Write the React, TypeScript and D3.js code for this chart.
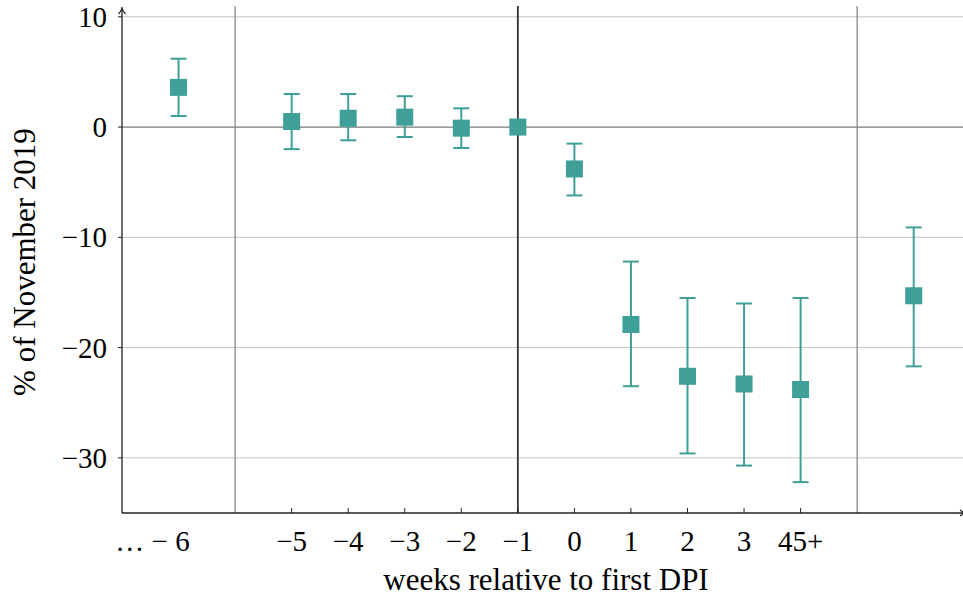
import React from "react";
import * as d3 from "d3";

const positions = [0, 2, 3, 4, 5, 6, 7, 8, 9, 10, 11, 13];
const estimates = [3.6, 0.5, 0.8, 0.9, -0.1, 0.0, -3.8, -17.9, -22.6, -23.3, -23.8, -15.3];
const lowerCI = [1.0, -2.0, -1.2, -0.9, -1.9, 0.0, -6.2, -23.5, -29.6, -30.7, -32.2, -21.7];
const upperCI = [6.2, 3.0, 3.0, 2.8, 1.7, 0.0, -1.5, -12.2, -15.5, -16.0, -15.5, -9.1];

const xTickPositions = [0, 2, 3, 4, 5, 6, 7, 8, 9, 10, 11];
const xTickLabels = ["… − 6", "−5", "−4", "−3", "−2", "−1", "0", "1", "2", "3", "45+"];
const yTicks = [10, 0, -10, -20, -30];
const grayVerticals = [1, 12];
const blackVertical = 6;

const W = 963;
const H = 597;
const TEAL = "#3f9f99";
const FONT = "'Liberation Serif', 'DejaVu Serif', serif";

export default function App() {
  const x = d3.scaleLinear().domain([-1, 14]).range([122, 122 + 15 * 56.55]);
  const y = d3.scaleLinear().domain([-35, 10]).range([513, 16.8]);
  const left = x(-1);
  const right = W;
  const top = 7;
  const bottom = y(-35);
  const fmt = (v: number) => (v < 0 ? "−" + Math.abs(v) : String(v));

  return (
    <svg width={W} height={H} style={{ position: "absolute", left: 0, top: 0, background: "#fff" }}>
      {/* horizontal grid */}
      {yTicks.map((t) => (
        <line key={"g" + t} x1={left} x2={right} y1={y(t)} y2={y(t)}
          stroke={t === 0 ? "#7a7a7a" : "#c4c4c4"} strokeWidth={t === 0 ? 1.3 : 1} />
      ))}
      {/* vertical separators */}
      {grayVerticals.map((p) => (
        <line key={"v" + p} x1={x(p)} x2={x(p)} y1={6} y2={bottom} stroke="#8a8a8a" strokeWidth={1.3} />
      ))}
      <line x1={x(blackVertical)} x2={x(blackVertical)} y1={6} y2={bottom} stroke="#333" strokeWidth={1.8} />

      {/* error bars */}
      {positions.map((p, i) => {
        const cx = x(p);
        return (
          <g key={"e" + i} stroke={TEAL} strokeWidth={2}>
            {upperCI[i] !== lowerCI[i] && (
              <>
                <line x1={cx} x2={cx} y1={y(upperCI[i])} y2={y(lowerCI[i])} />
                <line x1={cx - 8} x2={cx + 8} y1={y(upperCI[i])} y2={y(upperCI[i])} />
                <line x1={cx - 8} x2={cx + 8} y1={y(lowerCI[i])} y2={y(lowerCI[i])} />
              </>
            )}
          </g>
        );
      })}
      {positions.map((p, i) => (
        <rect key={"m" + i} x={x(p) - 8.5} y={y(estimates[i]) - 8.5} width={17} height={17} fill={TEAL} />
      ))}

      {/* axes */}
      <line x1={left} x2={left} y1={bottom} y2={top + 2} stroke="#222" strokeWidth={1.3} />
      <path d={`M${left - 3.5},${top + 7} Q${left},${top + 3} ${left},${top} Q${left},${top + 3} ${left + 3.5},${top + 7}`}
        fill="none" stroke="#222" strokeWidth={1.2} />
      <line x1={left} x2={right} y1={bottom} y2={bottom} stroke="#222" strokeWidth={1.3} />
      <path d={`M${right - 3},${bottom - 3} L${right + 1},${bottom} L${right - 3},${bottom + 3}`}
        fill="none" stroke="#222" strokeWidth={1.2} />

      {/* y ticks */}
      {yTicks.map((t) => (
        <g key={"yt" + t}>
          <line x1={left - 4} x2={left} y1={y(t)} y2={y(t)} stroke="#222" strokeWidth={1} />
          <text x={107} y={y(t) + 10} textAnchor="end" fontFamily={FONT} fontSize={29} fill="#000">
            {fmt(t)}
          </text>
        </g>
      ))}

      {/* x ticks */}
      {xTickPositions.map((p, i) => (
        <g key={"xt" + i}>
          {i > 0 && <line x1={x(p)} x2={x(p)} y1={bottom} y2={bottom - 5} stroke="#222" strokeWidth={1} />}
          <text x={x(p) + (i === 0 ? -26 : 0)} y={551} textAnchor="middle" fontFamily={FONT} fontSize={29} fill="#000">
            {xTickLabels[i]}
          </text>
        </g>
      ))}

      {/* axis titles */}
      <text x={546} y={590} textAnchor="middle" fontFamily={FONT} fontSize={31} fill="#000">
        weeks relative to first DPI
      </text>
      <text transform={`translate(35,262) rotate(-90)`} textAnchor="middle" fontFamily={FONT} fontSize={31} fill="#000">
        % of November 2019
      </text>
    </svg>
  );
}
